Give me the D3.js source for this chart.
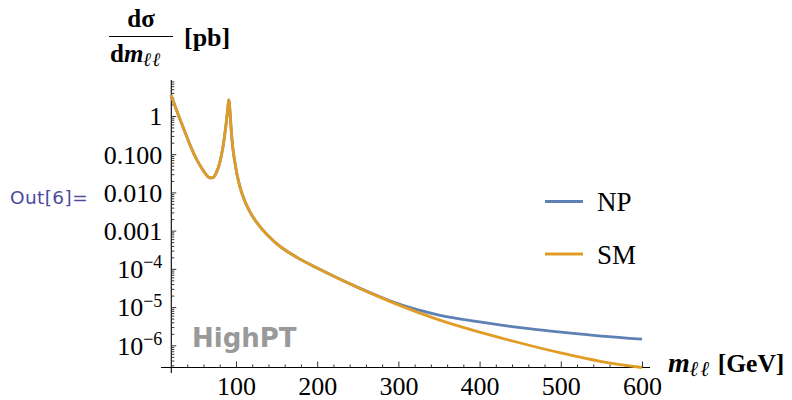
<!DOCTYPE html>
<html>
<head>
<meta charset="utf-8">
<script src="https://cdn.jsdelivr.net/npm/d3@7"></script>
<style>
  html, body { margin: 0; padding: 0; background: #fff; }
  svg { display: block; }
</style>
</head>
<body>
<svg id="chart" width="792" height="400"></svg>
<script>
// ---- Data ----
const massSM = [20, 25, 30, 35, 40, 45, 50, 55, 60, 64, 68, 72, 76, 80, 84, 86, 88, 89.5, 90.5, 91.2, 92, 93, 94, 95, 96.5, 98, 101, 105, 110, 115, 120, 130, 140, 150, 160, 175, 200, 225, 250, 275, 300, 350, 400, 450, 500, 550, 600];
const valSM  = [3.53, 1.82, 0.944, 0.501, 0.267, 0.146, 0.0849, 0.0541, 0.0366, 0.0279, 0.0240, 0.0247, 0.0334, 0.0592, 0.155, 0.301, 0.658, 1.28, 2.07, 2.63, 2.00, 1.00, 0.479, 0.251, 0.126, 0.0759, 0.0316, 0.0138, 0.00661, 0.00380, 0.00245, 0.00123, 0.000724, 0.000457, 0.000316, 0.000200, 0.000105, 5.75e-5, 3.27e-5, 1.91e-5, 1.14e-5, 4.62e-6, 2.21e-6, 1.15e-6, 6.31e-7, 3.76e-7, 2.63e-7];
const massNP = [20, 25, 30, 35, 40, 45, 50, 55, 60, 64, 68, 72, 76, 80, 84, 86, 88, 89.5, 90.5, 91.2, 92, 93, 94, 95, 96.5, 98, 101, 105, 110, 115, 120, 130, 140, 150, 160, 175, 200, 225, 250, 275, 300, 350, 400, 450, 500, 550, 600];
const valNP  = [3.53, 1.82, 0.944, 0.501, 0.267, 0.146, 0.0849, 0.0541, 0.0366, 0.0279, 0.0240, 0.0247, 0.0334, 0.0592, 0.155, 0.301, 0.658, 1.28, 2.07, 2.63, 2.00, 1.00, 0.479, 0.251, 0.126, 0.0759, 0.0316, 0.0138, 0.00661, 0.00380, 0.00245, 0.00123, 0.000724, 0.000457, 0.000316, 0.000200, 0.000105, 5.75e-5, 3.28e-5, 1.95e-5, 1.21e-5, 6.20e-6, 4.10e-6, 2.90e-6, 2.22e-6, 1.75e-6, 1.46e-6];
const seriesNames = ["NP", "SM"];
const seriesColors = ["#5E81B5", "#E19C24"];
const xTickValues = [100, 200, 300, 400, 500, 600];
const yTickValues = [1e-6, 1e-5, 1e-4, 1e-3, 1e-2, 1e-1, 1];
const yTickLabels = [["10", "−6"], ["10", "−5"], ["10", "−4"], ["0.001"], ["0.010"], ["0.100"], ["1"]];

// ---- Layout ----
const svg = d3.select("#chart");
const x = d3.scaleLinear().domain([20, 600]).range([171, 642]);
const y = d3.scaleLog().domain([Math.pow(10, -6.58), Math.pow(10, 0.94)]).range([367.5, 80]);
const axisY0 = 367.5, axisX0 = 171.3;
const serif = '"Liberation Serif", "DejaVu Serif", serif';

// Axis lines
svg.append("line").attr("x1", 161).attr("x2", 650).attr("y1", axisY0).attr("y2", axisY0)
  .attr("stroke", "#000").attr("stroke-width", 1.1);
svg.append("line").attr("x1", axisX0).attr("x2", axisX0).attr("y1", 80).attr("y2", 373)
  .attr("stroke", "#000").attr("stroke-width", 1.1);

// X axis ticks
const xMinor = d3.range(40, 601, 20).filter(v => v % 100 !== 0);
const gxMinor = svg.append("g").attr("transform", `translate(0,${axisY0})`)
  .call(d3.axisBottom(x).tickValues(xMinor).tickSize(-3).tickFormat(""));
gxMinor.select(".domain").remove();
const gx = svg.append("g").attr("transform", `translate(0,${axisY0})`)
  .call(d3.axisBottom(x).tickValues(xTickValues).tickSize(-6).tickPadding(9).tickFormat(d3.format("d")));
gx.select(".domain").remove();
gx.selectAll(".tick text").attr("font-size", 26).attr("fill", "#000").attr("font-family", serif);
svg.selectAll(".tick line").attr("stroke", "#333").attr("stroke-width", 1);

// Y axis ticks
const yMinor = [];
for (let e = -7; e <= 0; e++) for (let k = 2; k <= 9; k++) {
  const v = k * Math.pow(10, e);
  if (v >= y.domain()[0] && v <= y.domain()[1]) yMinor.push(v);
}
const gyMinor = svg.append("g").attr("transform", `translate(${axisX0},0)`)
  .call(d3.axisLeft(y).tickValues(yMinor).tickSize(-3).tickFormat(""));
gyMinor.select(".domain").remove();
gyMinor.selectAll(".tick line").attr("stroke", "#333");
const gy = svg.append("g").attr("transform", `translate(${axisX0},0)`)
  .call(d3.axisLeft(y).tickValues(yTickValues).tickSize(-5).tickPadding(8).tickFormat(""));
gy.select(".domain").remove();
gy.selectAll(".tick line").attr("stroke", "#333");
gy.selectAll(".tick").each(function(d, i) {
  const lab = yTickLabels[i];
  const t = d3.select(this).select("text")
    .attr("x", -9).attr("dy", "0.34em").attr("font-size", 26).attr("fill", "#000")
    .attr("font-family", serif).attr("text-anchor", "end");
  t.append("tspan").text(lab[0]);
  if (lab.length > 1) {
    t.append("tspan").attr("font-size", 18).attr("dy", "-0.55em").text(lab[1]);
  }
});

// Watermark
svg.append("text").attr("x", 192).attr("y", 347)
  .attr("font-family", '"DejaVu Sans", sans-serif').attr("font-weight", "bold")
  .attr("font-size", 26).attr("fill", "#999").text("HighPT");

// Curves
const lineGen = d3.line().x(d => x(d[0])).y(d => y(d[1])).curve(d3.curveMonotoneX);
const dataNP = massNP.map((m, i) => [m, valNP[i]]);
const dataSM = massSM.map((m, i) => [m, valSM[i]]);
[dataNP, dataSM].forEach((data, i) => {
  svg.append("path").datum(data).attr("d", lineGen)
    .attr("fill", "none").attr("stroke", seriesColors[i]).attr("stroke-width", 2.8)
    .attr("stroke-linejoin", "round").attr("stroke-linecap", "butt");
});

// Legend
const legendY = [201.5, 254];
seriesNames.forEach((name, i) => {
  svg.append("line").attr("x1", 545).attr("x2", 583).attr("y1", legendY[i]).attr("y2", legendY[i])
    .attr("stroke", seriesColors[i]).attr("stroke-width", 2.8);
  svg.append("text").attr("x", 597).attr("y", legendY[i] + 9.5)
    .attr("font-family", serif).attr("font-size", 27).attr("fill", "#000").text(name);
});

// Y axis title (fraction)
const title = svg.append("g").attr("font-family", serif).attr("font-weight", "bold").attr("fill", "#000");
title.append("text").attr("x", 141).attr("y", 27).attr("text-anchor", "middle").attr("font-size", 25)
  .text("dσ");
title.append("line").attr("x1", 109).attr("x2", 173).attr("y1", 36.5).attr("y2", 36.5)
  .attr("stroke", "#000").attr("stroke-width", 1.2);
const den = title.append("text").attr("x", 110).attr("y", 62).attr("font-size", 25);
den.append("tspan").text("d");
den.append("tspan").attr("font-style", "italic").text("m");
den.append("tspan").attr("font-style", "italic").attr("font-size", 19).attr("dy", 4).attr("letter-spacing", 1).text("ℓℓ");
title.append("text").attr("x", 184).attr("y", 46).attr("font-size", 26).attr("font-weight", "bold").text("[pb]");

// X axis title
const xt = svg.append("text").attr("x", 668).attr("y", 372).attr("font-family", serif)
  .attr("font-weight", "bold").attr("fill", "#000").attr("font-size", 25);
xt.append("tspan").attr("font-style", "italic").attr("font-size", 28).text("m");
xt.append("tspan").attr("font-style", "italic").attr("font-size", 21).attr("dy", 4).attr("letter-spacing", 2).text("ℓℓ");
xt.append("tspan").attr("dy", -4).attr("dx", 6).attr("font-size", 25.5).text("[GeV]");

// Out label
svg.append("text").attr("x", 10).attr("y", 204).attr("font-family", '"DejaVu Sans", sans-serif')
  .attr("font-size", 18.5).attr("letter-spacing", 0.4).attr("fill", "#4B4B9F").text("Out[6]=");
</script>
</body>
</html>
